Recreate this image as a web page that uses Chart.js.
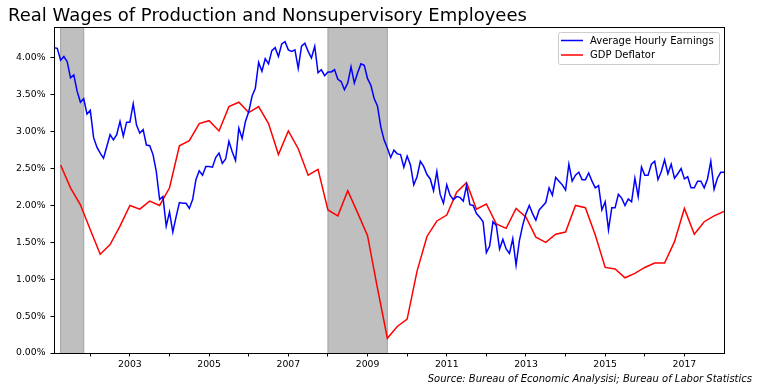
<!DOCTYPE html>
<html>
<head>
<meta charset="utf-8">
<script src="https://cdn.jsdelivr.net/npm/chart.js@4.4.1/dist/chart.umd.min.js"></script>
<style>
  html, body { margin: 0; padding: 0; background: #fff; }
  #wrap { width: 759px; height: 391px; position: relative; }
</style>
</head>
<body>
<div id="wrap"><canvas id="chart" width="759" height="391"></canvas></div>
<script>
// Monthly series, first value is Feb 2001
const hourlyStart = [2001, 2];
const hourlyEarnings = [
  4.14, 4.13, 3.97, 4.02, 3.95, 3.73, 3.77, 3.55, 3.40, 3.45, 3.24,          // 2001
  3.29, 2.92, 2.79, 2.71, 2.64, 2.80, 2.96, 2.89, 2.96, 3.14, 2.94, 3.13,    // 2002
  3.13, 3.38, 3.09, 2.98, 3.03, 2.82, 2.81, 2.69, 2.46, 2.08, 2.12, 1.72,    // 2003
  1.91, 1.64, 1.85, 2.04, 2.03, 2.03, 1.96, 2.08, 2.35, 2.47, 2.41, 2.53,    // 2004
  2.53, 2.52, 2.65, 2.71, 2.57, 2.63, 2.87, 2.73, 2.61, 3.05, 2.91, 3.14,    // 2005
  3.27, 3.48, 3.59, 3.94, 3.82, 3.99, 3.92, 4.10, 4.14, 4.02, 4.19, 4.22,    // 2006
  4.11, 4.09, 4.11, 3.86, 4.16, 4.20, 4.09, 4.00, 4.16, 3.80, 3.84, 3.76,    // 2007
  3.81, 3.81, 3.84, 3.71, 3.68, 3.57, 3.66, 3.88, 3.66, 3.80, 3.92, 3.90,    // 2008
  3.72, 3.63, 3.45, 3.35, 3.07, 2.89, 2.78, 2.65, 2.75, 2.70, 2.69, 2.52,    // 2009
  2.67, 2.55, 2.28, 2.39, 2.60, 2.53, 2.42, 2.36, 2.20, 2.46, 2.15, 2.03,    // 2010
  2.28, 2.14, 2.08, 2.12, 2.11, 2.06, 2.27, 2.01, 2.00, 1.89, 1.84, 1.78,    // 2011
  1.36, 1.45, 1.78, 1.73, 1.41, 1.54, 1.41, 1.35, 1.55, 1.19, 1.52, 1.73,    // 2012
  1.89, 2.00, 1.89, 1.80, 1.94, 1.99, 2.04, 2.24, 2.14, 2.38, 2.33, 2.28,    // 2013
  2.21, 2.56, 2.33, 2.41, 2.45, 2.35, 2.35, 2.44, 2.33, 2.24, 2.27, 1.94,    // 2014
  2.05, 1.67, 1.97, 1.97, 2.15, 2.10, 2.00, 2.09, 2.05, 2.37, 2.12, 2.52,    // 2015
  2.41, 2.41, 2.56, 2.60, 2.35, 2.46, 2.62, 2.43, 2.56, 2.37, 2.43, 2.50,    // 2016
  2.36, 2.39, 2.24, 2.24, 2.33, 2.33, 2.24, 2.36, 2.60, 2.22, 2.37, 2.45,    // 2017
  2.45                                                                       // 2018
];

// Quarterly series, first value is 2001 Q2
const deflatorStart = [2001, 4];
const gdpDeflator = [
  2.55, 2.24, 2.01,          // 2001
  1.67, 1.34, 1.47, 1.72,    // 2002
  2.00, 1.95, 2.06, 2.00,    // 2003
  2.24, 2.81, 2.88, 3.11,    // 2004
  3.15, 3.01, 3.34, 3.40,    // 2005
  3.26, 3.34, 3.11, 2.69,    // 2006
  3.01, 2.77, 2.41, 2.49,    // 2007
  1.94, 1.86, 2.20, 1.90,    // 2008
  1.59, 0.88, 0.20, 0.36,    // 2009
  0.46, 1.11, 1.58, 1.79,    // 2010
  1.87, 2.18, 2.31, 1.95,    // 2011
  2.02, 1.75, 1.69, 1.96,    // 2012
  1.84, 1.57, 1.50, 1.61,    // 2013
  1.64, 2.00, 1.97, 1.60,    // 2014
  1.16, 1.14, 1.02, 1.08,    // 2015
  1.16, 1.22, 1.22, 1.51,    // 2016
  1.96, 1.61, 1.78, 1.86,    // 2017
  1.92                       // 2018
];

// NBER recessions [start, end] as [year, month]
const recessions = [
  [[2001, 4], [2001, 11]],
  [[2008, 1], [2009, 7]]
];

const xRange = [[2001, 2], [2018, 1]];
const yTicks = [0, 0.5, 1, 1.5, 2, 2.5, 3, 3.5, 4];
const yMax = 4.42;
const xLabelYears = [2003, 2005, 2007, 2009, 2011, 2013, 2015, 2017];
const xTickYears = [2002, 2003, 2004, 2005, 2006, 2007, 2008, 2009, 2010,
                    2011, 2012, 2013, 2014, 2015, 2016, 2017];

const TITLE = 'Real Wages of Production and Nonsupervisory Employees';
const SOURCE = 'Source: Bureau of Economic Analysisi; Bureau of Labor Statistics';
const FONT = "'DejaVu Sans', sans-serif";

const ym = (y, m) => y + (m - 1) / 12;

function monthly(start, values, step) {
  return values.map((v, i) => {
    const mi = start[1] - 1 + i * step;
    return { x: start[0] + mi / 12, y: v };
  });
}

// ---------------------------------------------------------------------------
// Plugins
// ---------------------------------------------------------------------------
const recessionShade = {
  id: 'recessionShade',
  beforeDatasetsDraw(chart) {
    const { ctx, chartArea: a, scales: { x } } = chart;
    ctx.save();
    recessions.forEach(([s, e]) => {
      const x1 = x.getPixelForValue(ym(s[0], s[1]));
      const x2 = x.getPixelForValue(ym(e[0], e[1]));
      ctx.fillStyle = '#bfbfbf';
      ctx.fillRect(x1, a.top, x2 - x1, a.bottom - a.top);
      ctx.strokeStyle = '#a3a3a3';
      ctx.lineWidth = 1;
      ctx.beginPath();
      ctx.moveTo(x1, a.top); ctx.lineTo(x1, a.bottom);
      ctx.moveTo(x2, a.top); ctx.lineTo(x2, a.bottom);
      ctx.stroke();
    });
    ctx.restore();
  }
};

const decorations = {
  id: 'decorations',
  afterDraw(chart) {
    const { ctx, chartArea: a } = chart;
    ctx.save();

    // spines
    ctx.strokeStyle = '#000';
    ctx.lineWidth = 1;
    ctx.strokeRect(Math.round(a.left) + 0.5, Math.round(a.top) + 0.5,
                   Math.round(a.right - a.left), Math.round(a.bottom - a.top));

    // title
    ctx.fillStyle = '#000';
    ctx.font = `18px ${FONT}`;
    ctx.textAlign = 'left';
    ctx.textBaseline = 'alphabetic';
    ctx.fillText(TITLE, 8, 21);

    // source note
    ctx.font = `italic 10px ${FONT}`;
    ctx.textAlign = 'right';
    ctx.fillText(SOURCE, 752, 382);

    // legend
    const bx = 558.5, by = 32.5, bw = 161, bh = 32;
    ctx.fillStyle = 'rgba(255,255,255,0.8)';
    ctx.strokeStyle = '#cccccc';
    ctx.beginPath();
    ctx.roundRect(bx, by, bw, bh, 2);
    ctx.fill();
    ctx.stroke();
    ctx.font = `10px ${FONT}`;
    ctx.textAlign = 'left';
    ctx.textBaseline = 'middle';
    chart.data.datasets.forEach((ds, i) => {
      const ly = 40.5 + i * 14.5;
      ctx.strokeStyle = ds.borderColor;
      ctx.lineWidth = 1.5;
      ctx.beginPath();
      ctx.moveTo(561, ly);
      ctx.lineTo(583, ly);
      ctx.stroke();
      ctx.fillStyle = '#000';
      ctx.fillText(ds.label, 590, ly + 0.5);
    });
    ctx.restore();
  }
};

// ---------------------------------------------------------------------------
// Chart
// ---------------------------------------------------------------------------
new Chart(document.getElementById('chart').getContext('2d'), {
  type: 'line',
  data: {
    datasets: [
      {
        label: 'Average Hourly Earnings',
        data: monthly(hourlyStart, hourlyEarnings, 1),
        borderColor: '#0000ff',
        borderWidth: 1.5,
        pointRadius: 0,
        tension: 0
      },
      {
        label: 'GDP Deflator',
        data: monthly(deflatorStart, gdpDeflator, 3),
        borderColor: '#ff0000',
        borderWidth: 1.5,
        pointRadius: 0,
        tension: 0
      }
    ]
  },
  options: {
    responsive: false,
    animation: false,
    devicePixelRatio: 1,
    layout: { padding: { top: 27, right: 35, left: 0, bottom: 0 } },
    plugins: {
      legend: { display: false },
      title: { display: false },
      tooltip: { enabled: false }
    },
    scales: {
      x: {
        type: 'linear',
        min: ym(xRange[0][0], xRange[0][1]),
        max: ym(xRange[1][0], xRange[1][1]),
        afterFit: s => { s.height = 38; },
        afterBuildTicks: s => { s.ticks = xTickYears.map(v => ({ value: v })); },
        border: { display: false },
        grid: { drawOnChartArea: false, drawTicks: true, tickLength: 3.5, color: '#000' },
        ticks: {
          autoSkip: false,
          maxRotation: 0,
          padding: 3,
          color: '#000',
          font: { family: FONT, size: 9.3 },
          callback: v => xLabelYears.includes(v) ? String(v) : ''
        }
      },
      y: {
        min: 0,
        max: yMax,
        afterFit: s => { s.width = 54; },
        afterBuildTicks: s => { s.ticks = yTicks.map(v => ({ value: v })); },
        border: { display: false },
        grid: { drawOnChartArea: false, drawTicks: true, tickLength: 3.5, color: '#000' },
        ticks: {
          padding: 5,
          color: '#000',
          font: { family: FONT, size: 9.3 },
          callback: v => v.toFixed(2) + '%'
        }
      }
    }
  },
  plugins: [recessionShade, decorations]
});
</script>
</body>
</html>
